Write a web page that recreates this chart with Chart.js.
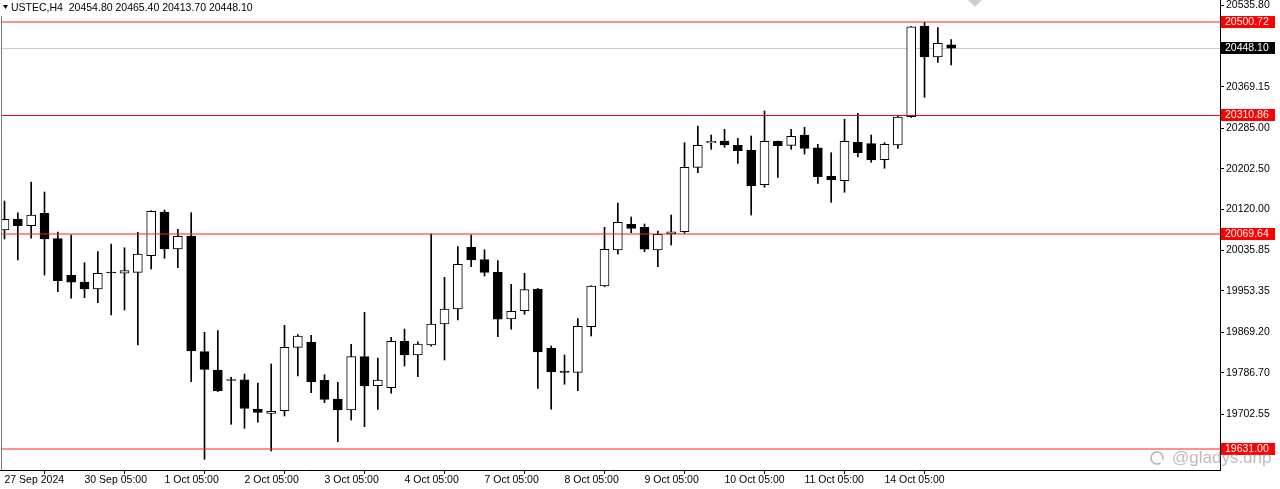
<!DOCTYPE html>
<html lang="en">
<head>
<meta charset="UTF-8">
<title>USTEC,H4</title>
<script src="https://cdn.jsdelivr.net/npm/chart.js@4/dist/chart.umd.min.js"></script>
<style>
  body { margin: 0; background: #fff; }
  canvas { display: block; }
</style>
</head>
<body>
<canvas id="chart" width="1280" height="489"></canvas>
<script>
// H4 candles
const opens  = [20077.5,20099.3,20086.2,20111.5,20059.8,19985.2,19971.6,19957.3,19992.0,19989.3,
                19991.3,20025.1,20114.1,20038.8,20065.3,19829.6,19792.3,19773.0,19772.5,19712.8,
                19704.1,19709.4,19838.5,19848.7,19771.3,19733.2,19710.8,19819.4,19760.3,19756.2,
                19850.8,19822.8,19843.2,19886.0,19916.6,20042.2,20017.0,19991.3,19896.2,19913.1,
                19956.7,19836.5,19789.5,19787.5,19880.5,19963.4,20036.8,20089.1,20083.0,20036.8,
                20069.3,20074.0,20205.2,20254.7,20258.8,20250.0,20239.8,20169.8,20258.2,20250.0,
                20271.0,20245.1,20186.8,20177.9,20256.1,20253.3,20220.7,20250.6,20308.3,20493.0,
                20429.9,20454.8];
const highs  = [20136.5,20112.7,20175.3,20154.9,20073.4,20067.3,20010.9,20033.3,20049.0,20041.4,
                20072.8,20116.8,20118.2,20078.9,20112.7,19869.1,19872.4,19777.5,19784.1,19765.8,
                19804.5,19883.3,19864.2,19863.0,19782.7,19767.2,19844.6,19909.8,19816.8,19858.9,
                19875.8,19849.9,20069.3,19981.1,20043.5,20067.3,20037.4,20015.0,19966.8,19989.3,
                19958.7,19841.2,19822.8,19896.8,19964.0,20083.0,20132.5,20104.0,20089.7,20075.4,
                20108.0,20255.3,20289.3,20271.0,20282.6,20264.3,20269.0,20319.9,20258.5,20282.6,
                20286.7,20252.0,20234.9,20303.0,20315.2,20271.0,20255.3,20309.7,20492.0,20500.6,
                20489.6,20465.4];
const lows   = [20059.1,20016.4,20060.6,19985.8,19951.8,19938.4,19939.6,19929.4,19904.3,19914.5,
                19843.2,19998.0,20019.8,20000.7,19768.5,19610.4,19748.0,19681.7,19673.5,19685.8,
                19627.3,19698.6,19780.1,19746.1,19725.7,19646.3,19690.4,19676.8,19712.2,19744.8,
                19800.4,19778.6,19841.0,19812.7,19894.1,20002.7,19983.8,19860.1,19875.2,19905.8,
                19755.0,19712.2,19763.2,19750.1,19861.6,19962.0,20028.0,20072.0,20033.3,20002.7,
                20046.9,20070.7,20194.2,20241.8,20245.9,20213.3,20108.0,20164.5,20184.8,20241.8,
                20232.3,20172.6,20133.9,20154.3,20226.2,20215.4,20203.2,20243.9,20306.9,20347.8,
                20419.1,20413.7];
const closes = [20099.3,20086.2,20108.0,20059.1,19974.2,19971.0,19957.3,19989.3,19990.0,19994.6,
                20028.6,20115.6,20038.8,20064.6,19831.0,19793.7,19750.1,19771.0,19713.9,19706.1,
                19708.2,19838.5,19861.6,19768.5,19732.6,19710.8,19819.4,19759.7,19771.9,19850.8,
                19822.8,19845.3,19886.0,19916.6,20007.6,20016.4,19991.3,19895.6,19911.9,19955.9,
                19829.0,19788.2,19787.5,19881.3,19963.4,20038.2,20093.2,20080.9,20038.2,20068.7,
                20074.0,20205.2,20250.0,20258.2,20250.6,20239.0,20167.7,20258.2,20249.2,20268.3,
                20243.9,20186.0,20179.3,20258.2,20234.9,20220.1,20252.0,20307.7,20491.6,20429.9,
                20457.8,20448.1];

const xTickIdx    = [0, 6, 12, 18, 24, 30, 36, 42, 48, 54, 60, 66];
const xTickLabels = ['27 Sep 2024', '30 Sep 05:00', '1 Oct 05:00', '2 Oct 05:00', '3 Oct 05:00', '4 Oct 05:00',
                     '7 Oct 05:00', '8 Oct 05:00', '9 Oct 05:00', '10 Oct 05:00', '11 Oct 05:00', '14 Oct 05:00'];
const yTicks = [20535.80, 20369.15, 20285.00, 20202.50, 20120.00, 20035.85, 19953.35, 19869.20, 19786.70, 19702.55];

const levels = [20500.72, 20310.86, 20069.64, 19631.00];
const symbol = 'USTEC,H4';
const watermark = '@gladys.dnp';

// styles: soft lines straddle two pixel rows, the middle one is crisp
const FONT = "'Liberation Sans', Arial, sans-serif";
const levelColors = ['#ff2020', '#e01010', '#ff2020', '#ff2020'];
const levelCrisp = [false, true, false, false];

const last = closes.length - 1;
const wicks = lows.map((l, i) => ({ x: i, y: [l, highs[i]] }));
const bodies = opens.map((o, i) => ({ x: i, y: [o, closes[i]] }));
const bodyFill = opens.map((o, i) => closes[i] >= o ? '#ffffff' : '#000000');

const overlay = {
  id: 'overlay',
  beforeDatasetsDraw(chart) {
    const { ctx, chartArea: a, scales: { y } } = chart;
    // bid line
    const py = Math.round(y.getPixelForValue(closes[last])) + 0.5;
    ctx.save();
    ctx.strokeStyle = '#cccccc';
    ctx.lineWidth = 1;
    ctx.beginPath(); ctx.moveTo(a.left, py); ctx.lineTo(a.right, py); ctx.stroke();
    ctx.restore();
  },
  afterDatasetsDraw(chart) {
    const { ctx, chartArea: a, scales: { y } } = chart;
    ctx.save();
    ctx.lineWidth = 1;
    levels.forEach((v, i) => {
      const py = Math.round(y.getPixelForValue(v)) + (levelCrisp[i] ? 0.5 : 0);
      ctx.strokeStyle = levelColors[i];
      ctx.beginPath(); ctx.moveTo(a.left, py); ctx.lineTo(a.right, py); ctx.stroke();
    });
    // chart shift marker
    ctx.fillStyle = '#cfcfcf';
    ctx.beginPath(); ctx.moveTo(968, 0); ctx.lineTo(982, 0); ctx.lineTo(975, 7); ctx.closePath(); ctx.fill();
    // left frame
    ctx.fillStyle = '#fff';
    ctx.fillRect(a.left, a.top, 1, a.bottom - a.top);
    ctx.strokeStyle = '#7a7a7a';
    ctx.beginPath(); ctx.moveTo(a.left + 1.5, a.top + 16); ctx.lineTo(a.left + 1.5, a.bottom); ctx.stroke();
    ctx.restore();
  },
  afterDraw(chart) {
    const { ctx, chartArea: a, scales: { y } } = chart;
    ctx.save();
    ctx.font = '10.5px ' + FONT;
    ctx.textBaseline = 'middle';
    const tag = (v, bg) => {
      const py = Math.round(y.getPixelForValue(v));
      ctx.fillStyle = bg;
      ctx.fillRect(a.right + 1, py - 6, 54, 12);
      ctx.fillStyle = '#fff';
      ctx.fillText(v.toFixed(2), a.right + 5, py + 0.5);
    };
    levels.forEach(v => tag(v, '#ff0000'));
    tag(closes[last], '#000000');

    // header
    ctx.fillStyle = '#000';
    ctx.beginPath(); ctx.moveTo(3, 5); ctx.lineTo(8, 5); ctx.lineTo(5.5, 9); ctx.closePath(); ctx.fill();
    const ohlc = [opens[last], highs[last], lows[last], closes[last]].map(v => v.toFixed(2)).join(' ');
    ctx.fillText(symbol + '  ' + ohlc, 11, 8);

    // watermark
    ctx.strokeStyle = 'rgba(130,130,130,0.6)';
    ctx.lineWidth = 1.5;
    ctx.beginPath(); ctx.arc(1157, 458, 6, Math.PI * 0.3, Math.PI * 2.1); ctx.stroke();
    ctx.font = '17px ' + FONT;
    ctx.fillStyle = 'rgba(140,140,140,0.6)';
    ctx.fillText(watermark, 1172, 458);
    ctx.restore();
  }
};

new Chart(document.getElementById('chart'), {
  type: 'bar',
  data: {
    datasets: [
      { data: wicks, backgroundColor: '#000', barThickness: 1, borderWidth: 0, grouped: false, order: 2 },
      { data: bodies, backgroundColor: bodyFill, borderColor: '#000', borderWidth: 1,
        borderSkipped: false, barThickness: 9, grouped: false, order: 1 }
    ]
  },
  options: {
    responsive: false,
    animation: false,
    devicePixelRatio: 1,
    layout: { padding: 0 },
    plugins: { legend: { display: false }, tooltip: { enabled: false } },
    scales: {
      x: {
        type: 'linear',
        offset: false,
        min: -0.3375,
        max: 91.16,
        grid: { display: true, drawOnChartArea: false, drawTicks: true, tickLength: 4, color: '#000' },
        border: { display: true, color: '#000' },
        ticks: {
          autoSkip: false, maxRotation: 0, align: 'start', padding: 0, color: '#000',
          font: { family: FONT, size: 10.5 },
          callback: v => xTickLabels[xTickIdx.indexOf(v)]
        },
        afterBuildTicks: s => { s.ticks = xTickIdx.map(v => ({ value: v })); },
        afterFit: s => { s.height = 19; s.paddingLeft = 0; s.paddingRight = 0; }
      },
      y: {
        position: 'right',
        min: 19588.6,
        max: 20546.0,
        grid: { display: true, drawOnChartArea: false, drawTicks: true, tickLength: 4, color: '#000' },
        border: { display: true, color: '#000' },
        ticks: {
          autoSkip: false, padding: 2, color: '#000',
          font: { family: FONT, size: 10.5 },
          callback: v => Number(v).toFixed(2)
        },
        afterBuildTicks: s => { s.ticks = yTicks.map(v => ({ value: v })); },
        afterFit: s => { s.width = 60; s.paddingTop = 0; s.paddingBottom = 0; }
      }
    }
  },
  plugins: [overlay]
});
</script>
</body>
</html>
